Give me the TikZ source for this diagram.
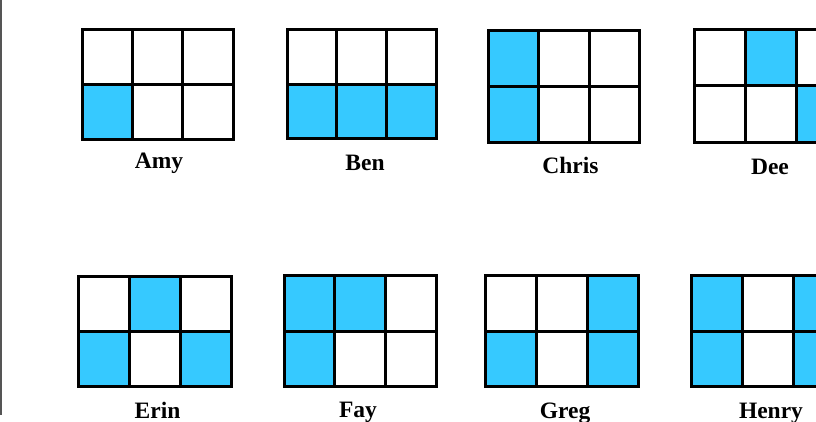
\documentclass[tikz,border=0pt]{standalone}
\usepackage{fontspec}
\setmainfont{Liberation Serif}
\definecolor{cellblue}{RGB}{54,201,255}
\definecolor{edgegray}{RGB}{85,85,85}
\tikzset{
  cellfill/.style={fill=cellblue},
  gridline/.style={draw=black, line width=3pt, line join=miter},
  lbl/.style={font=\fontsize{23.5}{28}\selectfont\bfseries, anchor=base, inner sep=0pt}
}
\newcommand{\fgrid}[5]{%
  \pgfmathsetmacro\cw{(#3-#1)/3}%
  \pgfmathsetmacro\ch{(#4-#2)/2}%
  \begin{scope}[shift={(#1,#2)}, x=\cw pt, y=-\ch pt]
    \foreach \c/\r in {#5} { \fill[cellfill] (\c-1,\r-1) rectangle (\c,\r); }
    \draw[gridline] (0,0) rectangle (3,2) (1,0) -- (1,2) (2,0) -- (2,2) (0,1) -- (3,1);
  \end{scope}}
\begin{document}
\begin{tikzpicture}[x=1pt,y=-1pt]
  \useasboundingbox (0,0) rectangle (816,421);
  \clip (0,0) rectangle (816,421);
  \fill[white] (0,0) rectangle (816,421);
  \fill[edgegray] (0,0) rectangle (2,415);
  % row 1
  \fgrid{82.5}{29.5}{233}{139.5}{1/2}
  \fgrid{287}{29.7}{436.3}{138.7}{1/2,2/2,3/2}
  \fgrid{488}{30}{639.7}{142}{1/1,1/2}
  \fgrid{694.7}{29.7}{848}{142}{2/1,3/2}
  % row 2
  \fgrid{78.5}{276.5}{231.5}{386.5}{2/1,1/2,3/2}
  \fgrid{284}{275.7}{436.3}{386.3}{1/1,2/1,1/2}
  \fgrid{485.5}{275.7}{638.7}{386.5}{3/1,1/2,3/2}
  \fgrid{691.5}{275.7}{845}{386.5}{1/1,3/1,1/2,3/2}
  % labels
  \node[lbl] (amy) at (159,168.5) {Amy};
  \node[lbl] (ben) at (365,170.5) {Ben};
  \node[lbl] (chris) at (570.5,173) {Chris};
  \node[lbl] (dee) at (770,174) {Dee};
  \node[lbl] (erin) at (157.5,418.3) {Erin};
  \node[lbl] (fay) at (358,417.5) {Fay};
  \node[lbl] (greg) at (565,418.5) {Greg};
  \node[lbl] (henry) at (771,418) {Henry};
\end{tikzpicture}
\end{document}
